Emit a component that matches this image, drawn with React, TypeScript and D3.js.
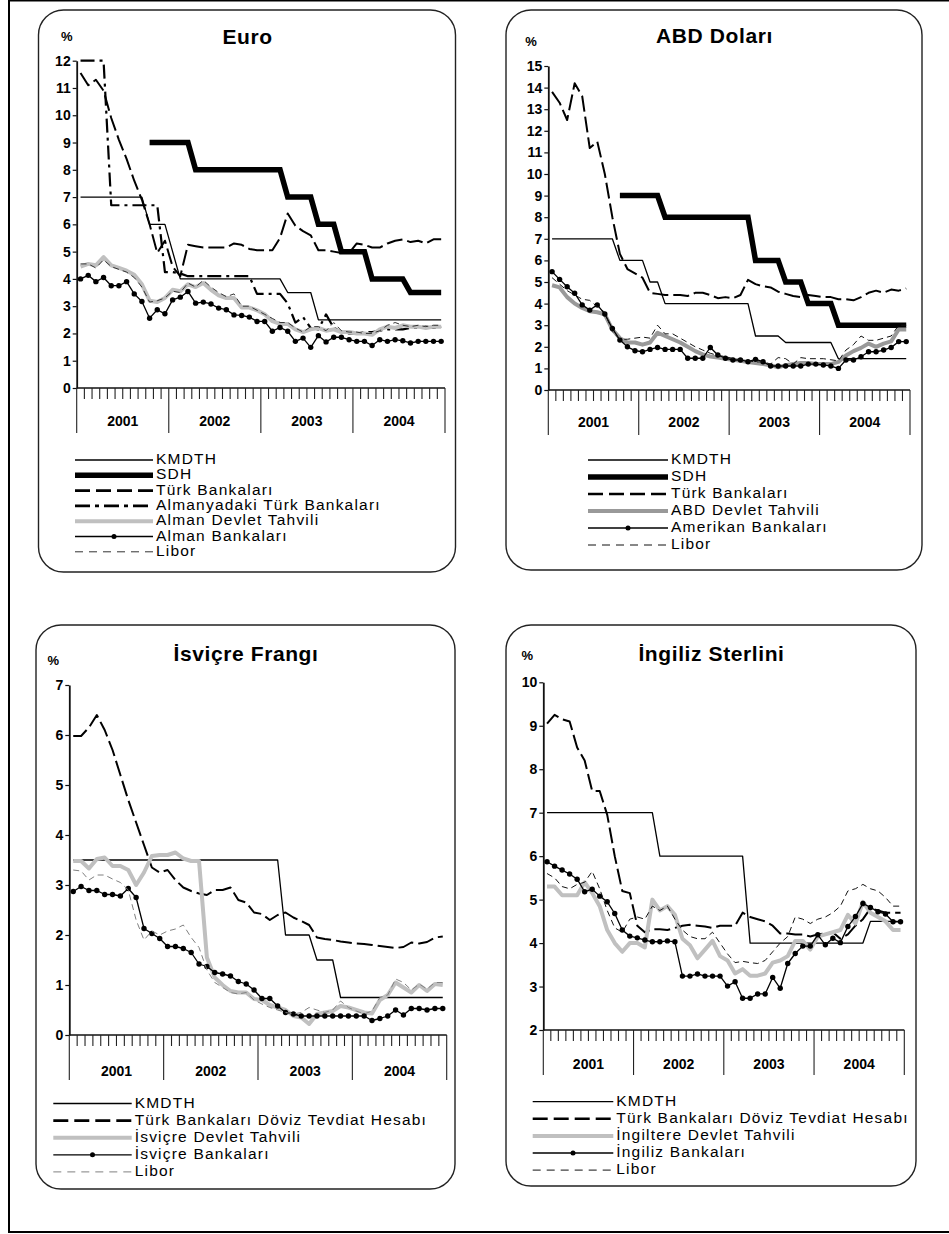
import React, { useEffect, useRef } from 'react';
import * as d3 from 'd3';

const years = ['2001', '2002', '2003', '2004'];
const months = years.flatMap((y) => d3.range(1, 13).map((m) => `${y}-${m}`));

// Euro
const euroKmdth = [7, 7, 7, 7, 7, 7, 7, 7, 7, 6, 6, 6, 5, 4, 4, 4, 4, 4, 4, 4, 4, 4, 4, 4, 4, 4, 4, 3.5, 3.5, 3.5, 3.5, 2.5, 2.5, 2.5, 2.5, 2.5, 2.5, 2.5, 2.5, 2.5, 2.5, 2.5, 2.5, 2.5, 2.5, 2.5, 2.5, 2.5];
const euroSdh = [null, null, null, null, null, null, null, null, null, 9, 9, 9, 9, 9, 9, 8, 8, 8, 8, 8, 8, 8, 8, 8, 8, 8, 8, 7, 7, 7, 7, 6, 6, 6, 5, 5, 5, 5, 4, 4, 4, 4, 4, 3.5, 3.5, 3.5, 3.5, 3.5];
const euroTurk = [11.55, 11.1, 11.3, 10.9, 9.9, 9.1, 8.4, 7.6, 6.9, 6.0, 4.95, 5.4, 4.45, 4.1, 5.25, 5.2, 5.15, 5.15, 5.15, 5.15, 5.3, 5.25, 5.1, 5.05, 5.05, 5.05, 5.5, 6.4, 5.95, 5.75, 5.6, 5.05, 5.05, 5.0, 4.95, 4.95, 5.3, 5.25, 5.15, 5.15, 5.3, 5.4, 5.45, 5.35, 5.4, 5.3, 5.45, 5.45];
const euroAlmanyaTurk = [12, 12, 12, 12, 6.7, 6.7, 6.7, 6.7, 6.7, 6.7, 6.7, 4.25, 4.25, 4.2, 4.1, 4.1, 4.1, 4.1, 4.1, 4.1, 4.1, 4.1, 4.1, 3.45, 3.45, 3.45, 3.45, 3.1, 2.4, 2.6, 2.2, 2.15, 2.7, 2.2, 2.1, 2.0, 2.0, 2.05, 2.05, 2.1, 2.15, 2.15, 2.15, 2.2, 2.2, 2.25, 2.2, 2.25];
const euroTahvil = [4.45, 4.55, 4.5, 4.8, 4.5, 4.4, 4.3, 4.15, 3.8, 3.2, 3.15, 3.3, 3.6, 3.55, 3.8, 3.7, 3.85, 3.6, 3.4, 3.3, 3.3, 2.95, 2.95, 2.85, 2.7, 2.45, 2.35, 2.35, 2.15, 2.05, 2.15, 2.2, 2.1, 2.15, 2.05, 2.05, 2.0, 2.0, 1.95, 2.15, 2.25, 2.2, 2.3, 2.25, 2.25, 2.2, 2.25, 2.25];
const euroBanka = [4.0, 4.13, 3.9, 4.05, 3.75, 3.75, 3.9, 3.45, 3.17, 2.56, 2.87, 2.72, 3.23, 3.33, 3.54, 3.11, 3.15, 3.08, 2.93, 2.87, 2.68, 2.66, 2.6, 2.44, 2.44, 2.08, 2.22, 2.08, 1.71, 1.83, 1.49, 1.92, 1.69, 1.86, 1.86, 1.77, 1.71, 1.71, 1.56, 1.77, 1.71, 1.77, 1.73, 1.65, 1.71, 1.71, 1.71, 1.71];
const euroLibor = [4.55, 4.55, 4.4, 4.7, 4.45, 4.35, 4.25, 4.05, 3.7, 3.15, 3.2, 3.3, 3.55, 3.5, 3.85, 3.7, 3.95, 3.7, 3.5, 3.35, 3.45, 3.0, 3.0, 2.85, 2.7, 2.55, 2.4, 2.4, 2.2, 2.05, 2.25, 2.25, 2.1, 2.4, 2.1, 2.05, 2.05, 2.0, 2.0, 2.1, 2.3, 2.4, 2.3, 2.25, 2.3, 2.25, 2.3, 2.3];

// ABD Doları
const usdKmdth = [7, 7, 7, 7, 7, 7, 7, 7, 7, 6, 6, 6, 6, 5, 5, 4, 4, 4, 4, 4, 4, 4, 4, 4, 4, 4, 4, 2.5, 2.5, 2.5, 2.5, 2.2, 2.2, 2.2, 2.2, 2.2, 2.2, 2.2, 1.45, 1.45, 1.45, 1.45, 1.45, 1.45, 1.45, 1.45, 1.45, 1.45];
const usdSdh = [null, null, null, null, null, null, null, null, null, 9, 9, 9, 9, 9, 9, 8, 8, 8, 8, 8, 8, 8, 8, 8, 8, 8, 8, 6, 6, 6, 6, 5, 5, 5, 4, 4, 4, 4, 3, 3, 3, 3, 3, 3, 3, 3, 3, 3];
const usdTurk = [13.8, 13.3, 12.5, 14.2, 13.6, 11.2, 11.5, 10.0, 8.0, 6.3, 5.6, 5.4, 5.2, 4.5, 4.45, 4.4, 4.4, 4.4, 4.35, 4.5, 4.5, 4.4, 4.25, 4.3, 4.25, 4.4, 5.1, 4.9, 4.8, 4.75, 4.55, 4.45, 4.35, 4.3, 4.4, 4.35, 4.3, 4.3, 4.2, 4.2, 4.15, 4.3, 4.5, 4.6, 4.5, 4.65, 4.6, 4.7];
const usdTahvil = [4.85, 4.75, 4.3, 4.0, 3.8, 3.65, 3.6, 3.5, 2.8, 2.4, 2.2, 2.2, 2.1, 2.2, 2.65, 2.5, 2.35, 2.2, 2.0, 1.8, 1.65, 1.55, 1.5, 1.45, 1.4, 1.35, 1.3, 1.25, 1.2, 1.15, 1.05, 1.15, 1.2, 1.25, 1.25, 1.2, 1.2, 1.2, 1.3, 1.6, 1.8, 1.95, 2.15, 2.0, 2.15, 2.25, 2.8, 2.8];
const usdBanka = [5.48, 5.12, 4.78, 4.48, 3.94, 3.7, 3.94, 3.52, 2.85, 2.31, 2.0, 1.82, 1.77, 1.88, 1.97, 1.88, 1.88, 1.88, 1.47, 1.47, 1.47, 1.97, 1.62, 1.47, 1.39, 1.39, 1.31, 1.42, 1.31, 1.11, 1.11, 1.11, 1.11, 1.11, 1.2, 1.2, 1.16, 1.11, 1.0, 1.39, 1.39, 1.54, 1.77, 1.77, 1.85, 1.97, 2.24, 2.24];
const usdLibor = [5.2, 4.9, 4.6, 4.4, 4.2, 4.15, 3.85, 3.6, 2.7, 2.35, 2.35, 2.4, 2.45, 2.4, 3.0, 2.6, 2.6, 2.4, 2.2, 2.0, 1.85, 1.7, 1.6, 1.55, 1.45, 1.4, 1.35, 1.3, 1.3, 1.2, 1.5, 1.45, 1.2, 1.5, 1.45, 1.45, 1.45, 1.4, 1.35, 1.85, 2.1, 2.5, 2.3, 2.3, 2.4, 2.5, 3.0, 3.0];

// İsviçre Frangı
const chfKmdth = [3.5, 3.5, 3.5, 3.5, 3.5, 3.5, 3.5, 3.5, 3.5, 3.5, 3.5, 3.5, 3.5, 3.5, 3.5, 3.5, 3.5, 3.5, 3.5, 3.5, 3.5, 3.5, 3.5, 3.5, 3.5, 3.5, 3.5, 2, 2, 2, 2, 1.5, 1.5, 1.5, 0.75, 0.75, 0.75, 0.75, 0.75, 0.75, 0.75, 0.75, 0.75, 0.75, 0.75, 0.75, 0.75, 0.75];
const chfTurk = [5.98, 5.98, 6.15, 6.4, 6.1, 5.7, 5.2, 4.7, 4.25, 3.8, 3.35, 3.25, 3.3, 3.1, 2.95, 2.88, 2.83, 2.8, 2.9, 2.9, 2.95, 2.7, 2.65, 2.45, 2.42, 2.3, 2.4, 2.45, 2.35, 2.28, 2.2, 1.95, 1.92, 1.9, 1.87, 1.85, 1.83, 1.82, 1.8, 1.78, 1.76, 1.74, 1.76, 1.85, 1.83, 1.86, 1.95, 1.97];
const chfTahvil = [3.48, 3.48, 3.33, 3.52, 3.55, 3.38, 3.38, 3.3, 3.0, 3.25, 3.58, 3.6, 3.6, 3.65, 3.53, 3.48, 3.48, 1.55, 1.15, 1.0, 0.88, 0.85, 0.85, 0.72, 0.7, 0.6, 0.55, 0.5, 0.38, 0.35, 0.22, 0.42, 0.45, 0.48, 0.58, 0.55, 0.5, 0.45, 0.43, 0.7, 0.8, 1.05, 0.95, 0.85, 1.0, 0.88, 1.02, 1.0];
const chfBanka = [2.87, 2.97, 2.89, 2.89, 2.81, 2.81, 2.78, 2.93, 2.75, 2.13, 2.03, 1.93, 1.77, 1.77, 1.73, 1.65, 1.42, 1.37, 1.25, 1.22, 1.18, 1.07, 1.02, 0.9, 0.73, 0.73, 0.58, 0.45, 0.42, 0.38, 0.38, 0.38, 0.38, 0.38, 0.38, 0.38, 0.38, 0.38, 0.29, 0.33, 0.38, 0.5, 0.4, 0.53, 0.53, 0.5, 0.53, 0.53];
const chfLibor = [3.3, 3.28, 3.1, 3.2, 3.2, 3.12, 3.05, 2.9, 2.3, 1.9, 2.08, 2.0, 2.08, 2.12, 2.2, 1.95, 1.75, 1.3, 1.05, 0.95, 0.85, 0.82, 0.85, 0.7, 0.62, 0.55, 0.5, 0.45, 0.42, 0.45, 0.55, 0.5, 0.45, 0.5, 0.68, 0.55, 0.48, 0.42, 0.48, 0.75, 0.8, 1.12, 1.05, 0.9, 1.02, 0.92, 1.05, 1.05];

// İngiliz Sterlini
const gbpKmdth = [7, 7, 7, 7, 7, 7, 7, 7, 7, 7, 7, 7, 7, 7, 7, 6, 6, 6, 6, 6, 6, 6, 6, 6, 6, 6, 6, 4, 4, 4, 4, 4, 4, 4, 4, 4, 4, 4, 4, 4, 4, 4, 4, 4.5, 4.5, 4.5, 4.5, 4.5];
const gbpTurk = [9.05, 9.25, 9.15, 9.1, 8.5, 8.2, 7.5, 7.5, 6.95, 6.0, 5.2, 5.15, 4.4, 4.25, 4.32, 4.32, 4.3, 4.35, 4.4, 4.42, 4.4, 4.38, 4.35, 4.4, 4.4, 4.4, 4.7, 4.6, 4.55, 4.5, 4.4, 4.22, 4.22, 4.2, 4.2, 4.15, 4.2, 4.22, 4.25, 4.1, 4.2, 4.4, 4.55, 4.8, 4.75, 4.7, 4.7, 4.7];
const gbpTahvil = [5.3, 5.3, 5.1, 5.1, 5.1, 5.4, 5.15, 4.85, 4.3, 4.0, 3.8, 4.0, 4.0, 3.9, 5.0, 4.75, 4.85, 4.65, 4.1, 3.95, 3.65, 3.85, 4.05, 3.7, 3.6, 3.3, 3.4, 3.25, 3.25, 3.3, 3.55, 3.6, 3.7, 4.05, 4.05, 3.85, 4.15, 4.2, 4.25, 4.3, 4.65, 4.45, 4.95, 4.7, 4.6, 4.5, 4.3, 4.3];
const gbpBanka = [5.87, 5.77, 5.68, 5.59, 5.47, 5.18, 5.24, 5.08, 4.95, 4.68, 4.3, 4.16, 4.12, 4.07, 4.03, 4.03, 4.05, 4.03, 3.24, 3.24, 3.29, 3.24, 3.24, 3.24, 3.01, 3.11, 2.73, 2.73, 2.83, 2.83, 3.21, 2.96, 3.53, 3.76, 3.93, 3.93, 4.19, 3.96, 4.11, 4.01, 4.38, 4.61, 4.91, 4.82, 4.72, 4.67, 4.49, 4.49];
const gbpLibor = [5.6, 5.5, 5.3, 5.25, 5.35, 5.4, 5.65, 5.25, 4.75, 4.35, 4.25, 4.55, 4.6, 4.55, 4.85, 4.75, 4.85, 4.55, 4.3, 4.15, 4.1, 4.1, 4.25, 4.0, 3.75, 3.55, 3.58, 3.55, 3.53, 3.6, 3.8, 4.0, 4.15, 4.6, 4.55, 4.45, 4.55, 4.6, 4.7, 4.85, 5.2, 5.25, 5.35, 5.25, 5.2, 5.05, 4.85, 4.85];

type Val = number | null;
type Kind = 'kmdth' | 'sdh' | 'turk' | 'dashdot' | 'bond' | 'bank' | 'libor';
interface Series { name: string; values: Val[]; kind: Kind; color?: string }

// çizgi stilleri (grafik içi / lejant)
const styles: Record<Kind, { color: string; width: number; dash?: string; legendDash?: string; legendWidth?: number }> = {
  kmdth: { color: '#000', width: 1.3 },
  sdh: { color: '#000', width: 5.5 },
  turk: { color: '#000', width: 2, dash: '16,5', legendDash: '15,6', legendWidth: 2.6 },
  dashdot: { color: '#000', width: 2.2, dash: '14,5,3,5', legendDash: '15,5,4,5', legendWidth: 2.6 },
  bond: { color: '#c0c0c0', width: 4 },
  bank: { color: '#000', width: 1.3 },
  libor: { color: '#111', width: 1, dash: '6,4', legendDash: '8,6' },
};

const panels = [
  {
    title: 'Euro', box: [38.5, 10, 455.5, 572], x0: 76.7, x1: 445, yTop: 60.7, yBottom: 388, domain: [0, 12],
    titleY: 38, pctX: 66.7, pctY: 38, yearY: 422, legend: { x0: 75, x1: 153, y: 460, step: 15.3 },
    series: [
      { name: 'KMDTH', values: euroKmdth, kind: 'kmdth' },
      { name: 'SDH', values: euroSdh, kind: 'sdh' },
      { name: 'Türk Bankaları', values: euroTurk, kind: 'turk' },
      { name: 'Almanyadaki Türk Bankaları', values: euroAlmanyaTurk, kind: 'dashdot' },
      { name: 'Alman Devlet Tahvili', values: euroTahvil, kind: 'bond' },
      { name: 'Alman Bankaları', values: euroBanka, kind: 'bank' },
      { name: 'Libor', values: euroLibor, kind: 'libor', color: '#333' },
    ] as Series[],
  },
  {
    title: 'ABD Doları', box: [506, 10, 922, 570], x0: 548.3, x1: 910, yTop: 66, yBottom: 390, domain: [0, 15],
    titleY: 37, pctX: 531, pctY: 43, yearY: 423, legend: { x0: 588, x1: 668, y: 460, step: 17 },
    series: [
      { name: 'KMDTH', values: usdKmdth, kind: 'kmdth' },
      { name: 'SDH', values: usdSdh, kind: 'sdh' },
      { name: 'Türk Bankaları', values: usdTurk, kind: 'turk' },
      { name: 'ABD Devlet Tahvili', values: usdTahvil, kind: 'bond', color: '#999' },
      { name: 'Amerikan Bankaları', values: usdBanka, kind: 'bank' },
      { name: 'Libor', values: usdLibor, kind: 'libor' },
    ] as Series[],
  },
  {
    title: 'İsviçre Frangı', box: [36, 625, 455, 1189], x0: 69.3, x1: 446.7, yTop: 685, yBottom: 1035, domain: [0, 7],
    titleY: 655, pctX: 53.3, pctY: 662, yearY: 1072, legend: { x0: 53.3, x1: 131.7, y: 1103.5, step: 17.1 },
    series: [
      { name: 'KMDTH', values: chfKmdth, kind: 'kmdth' },
      { name: 'Türk Bankaları Döviz Tevdiat Hesabı', values: chfTurk, kind: 'turk' },
      { name: 'İsviçre Devlet Tahvili', values: chfTahvil, kind: 'bond' },
      { name: 'İsviçre Bankaları', values: chfBanka, kind: 'bank' },
      { name: 'Libor', values: chfLibor, kind: 'libor', color: '#808080' },
    ] as Series[],
  },
  {
    title: 'İngiliz Sterlini', box: [506, 625, 916, 1186], x0: 543.3, x1: 904.3, yTop: 682.3, yBottom: 1030, domain: [2, 10],
    titleY: 655, pctX: 527.3, pctY: 657, yearY: 1065, legend: { x0: 532.7, x1: 613.3, y: 1101.7, step: 17.1 },
    series: [
      { name: 'KMDTH', values: gbpKmdth, kind: 'kmdth' },
      { name: 'Türk Bankaları Döviz Tevdiat Hesabı', values: gbpTurk, kind: 'turk' },
      { name: 'İngiltere Devlet Tahvili', values: gbpTahvil, kind: 'bond' },
      { name: 'İngiliz Bankaları', values: gbpBanka, kind: 'bank' },
      { name: 'Libor', values: gbpLibor, kind: 'libor' },
    ] as Series[],
  },
];

const FONT = '"Liberation Sans", Arial, sans-serif';

// bir paneli çiz
const drawPanel = (svg: d3.Selection<SVGSVGElement, unknown, null, undefined>, p: (typeof panels)[number]) => {
  const g = svg.append('g');
  const [bx0, by0, bx1, by1] = p.box;
  g.append('rect')
    .attr('x', bx0).attr('y', by0)
    .attr('width', bx1 - bx0).attr('height', by1 - by0)
    .attr('rx', 25).attr('ry', 25)
    .attr('fill', '#fff').attr('stroke', '#222').attr('stroke-width', 1.4);

  const x = d3.scaleBand<string>().domain(months).range([p.x0, p.x1]);
  const bw = x.bandwidth();
  const y = d3.scaleLinear().domain(p.domain).range([p.yBottom, p.yTop]);

  // başlık
  g.append('text')
    .attr('x', (bx0 + bx1) / 2 + 0.5).attr('y', p.titleY)
    .attr('text-anchor', 'middle').attr('dominant-baseline', 'middle')
    .attr('font-family', FONT).attr('font-weight', 'bold').attr('font-size', 21)
    .attr('letter-spacing', 0.6)
    .text(p.title);
  g.append('text')
    .attr('x', p.pctX).attr('y', p.pctY)
    .attr('text-anchor', 'middle').attr('dominant-baseline', 'middle')
    .attr('font-family', FONT).attr('font-weight', 'bold').attr('font-size', 13)
    .text('%');

  // y ekseni
  const yAxis = g.append('g')
    .attr('transform', `translate(${p.x0},0)`)
    .call(
      d3.axisLeft(y)
        .tickValues(d3.range(p.domain[0], p.domain[1] + 1))
        .tickFormat(d3.format('d'))
        .tickSize(4)
        .tickSizeOuter(0)
        .tickPadding(2),
    );
  yAxis.select('.domain').attr('stroke', '#111').attr('stroke-width', 1.8);
  yAxis.selectAll('.tick line').attr('stroke', '#111').attr('stroke-width', 1.2);
  yAxis.selectAll('.tick text')
    .attr('font-family', FONT).attr('font-weight', 'bold').attr('font-size', 14).attr('fill', '#000');

  // x ekseni
  const base = y(p.domain[0]);
  g.append('line')
    .attr('x1', p.x0).attr('x2', p.x1).attr('y1', base).attr('y2', base)
    .attr('stroke', '#111').attr('stroke-width', 1.5);
  const edges = months.map((m) => x(m)!).concat([p.x1]);
  g.selectAll('line.xtick')
    .data(edges)
    .enter()
    .append('line')
    .attr('class', 'xtick')
    .attr('x1', (d) => d).attr('x2', (d) => d)
    .attr('y1', base)
    .attr('y2', (d, i) => base + (i % 12 === 0 ? 45 : 11))
    .attr('stroke', '#222').attr('stroke-width', 1.1);
  g.selectAll('text.year')
    .data(years)
    .enter()
    .append('text')
    .attr('class', 'year')
    .attr('x', (yr) => (x(`${yr}-1`)! + x(`${yr}-12`)! + bw) / 2)
    .attr('y', p.yearY)
    .attr('text-anchor', 'middle').attr('dominant-baseline', 'middle')
    .attr('font-family', FONT).attr('font-weight', 'bold').attr('font-size', 14)
    .text((yr) => yr);

  // seriler
  const line = d3.line<Val>()
    .defined((d) => d != null)
    .x((d, i) => x(months[i])! + bw / 2)
    .y((d) => y(d as number));

  p.series.forEach((s) => {
    const st = styles[s.kind];
    g.append('path')
      .datum(s.values)
      .attr('d', line)
      .attr('fill', 'none')
      .attr('stroke', s.color ?? st.color)
      .attr('stroke-width', st.width)
      .attr('stroke-dasharray', st.dash ?? null)
      .attr('stroke-linejoin', s.kind === 'sdh' ? 'miter' : 'round');
    if (s.kind === 'bank') {
      g.selectAll(null)
        .data(s.values)
        .enter()
        .append('circle')
        .attr('cx', (d, i) => x(months[i])! + bw / 2)
        .attr('cy', (d) => y(d as number))
        .attr('r', 2.7)
        .attr('fill', '#000');
    }
  });

  // lejant
  const L = p.legend;
  p.series.forEach((s, i) => {
    const st = styles[s.kind];
    const ly = L.y + i * L.step;
    g.append('line')
      .attr('x1', L.x0).attr('x2', L.x1).attr('y1', ly).attr('y2', ly)
      .attr('stroke', s.color ?? st.color)
      .attr('stroke-width', st.legendWidth ?? st.width)
      .attr('stroke-dasharray', st.legendDash ?? null);
    if (s.kind === 'bank') {
      g.append('circle').attr('cx', (L.x0 + L.x1) / 2).attr('cy', ly).attr('r', 2.5).attr('fill', '#000');
    }
    g.append('text')
      .attr('x', L.x1 + 3).attr('y', ly)
      .attr('dominant-baseline', 'middle')
      .attr('font-family', FONT).attr('font-size', 15.5).attr('letter-spacing', 1.2)
      .text(s.name);
  });
};

const App = () => {
  const svgRef = useRef<SVGSVGElement | null>(null);

  useEffect(() => {
    if (!svgRef.current) return;
    const svg = d3.select(svgRef.current);
    svg.selectAll('*').remove();

    // dış çerçeve
    svg.append('rect')
      .attr('x', 9).attr('y', 0.5).attr('width', 960).attr('height', 1231.5)
      .attr('fill', 'none').attr('stroke', '#000').attr('stroke-width', 2);

    panels.forEach((p) => drawPanel(svg, p));
  }, []);

  return (
    <svg
      ref={svgRef}
      width={949}
      height={1234}
      style={{ position: 'absolute', left: 0, top: 0, background: '#fff' }}
    />
  );
};

export default App;
